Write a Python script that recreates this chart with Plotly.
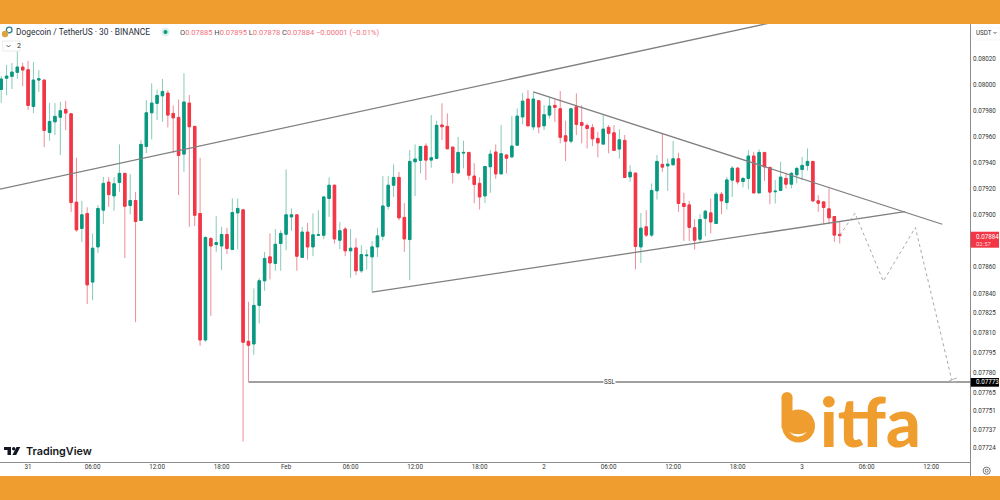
import math
import pandas as pd
import plotly.graph_objects as go

# ---------- data (prices) ----------
open_ = [
 .079964,.080052,.080066,.080097,.080138,.080117,.079833,.080037,.080037,.079632,
 .079714,.079750,.079810,.079776,.079096,.078895,.079009,.078486,.078754,.079035,
 .079250,.079144,.079247,.079317,.079070,.079109,.078956,.079524,.079784,.079857,
 .079915,.079936,.079779,.079748,.079465,.079859,.079679,.079009,.078047,.078818,
 .078772,.078761,.078849,.078734,.079014,.079037,.078037,.078017,.078309,.078496,
 .078678,.078628,.078780,.078851,.078983,.078999,.078674,.078867,.078754,.078843,
 .078843,.079124,.079226,.078805,.078890,.078724,.078746,.078572,.078687,.078678,
 .078754,.078836,.079065,.079226,.079286,.078979,.078810,.079406,.079417,.079527,
 .079419,.079432,.079689,.079679,.079519,.079321,.079473,.079478,.079296,.079240,
 .079144,.079368,.079481,.079313,.079458,.079444,.079534,.079752,.079890,.079675,
 .079877,.079683,.079766,.079841,.079815,.079606,.079565,.079830,.079709,.079686,
 .079668,.079586,.079542,.079671,.079629,.079504,.079571,.079290,.079319,.078754,
 .078907,.078844,.079183,.079386,.079375,.079383,.079429,.079086,.079075,.078900,
 .078813,.078973,.079014,.078933,.079157,.079093,.079265,.079357,.079255,.079278,
 .079450,.079167,.079478,.079363,.079176,.079186,.079278,.079234,.079306,.079347,
 .079378,.079409,.079106,.079098,.079045,.078986,.07885]
high = [
 .080068,.080154,.080169,.080262,.080171,.080187,.080177,.080115,.080040,.079861,
 .079859,.079869,.079877,.079778,.079437,.079106,.079057,.078857,.079073,.079290,
 .079288,.079288,.079540,.079320,.079311,.079175,.079573,.079882,.080012,.079964,
 .080045,.079959,.079841,.079887,.080090,.079921,.079680,.079437,.078835,.078830,
 .078989,.078907,.078900,.079124,.079124,.079040,.078336,.078438,.078516,.078716,
 .078857,.078890,.078882,.079347,.079048,.079000,.078907,.078937,.079010,.079035,
 .079142,.079286,.079230,.078945,.078907,.078890,.078820,.078767,.078734,.078797,
 .078897,.079296,.079296,.079386,.079329,.079088,.079496,.079540,.079526,.079548,
 .079766,.079722,.079857,.079779,.079520,.079598,.079568,.079480,.079396,.079286,
 .079373,.079496,.079540,.079689,.079465,.079758,.079818,.079938,.079959,.079946,
 .079880,.079843,.079907,.079887,.079952,.079722,.079817,.079934,.079843,.079702,
 .079696,.079637,.079772,.079689,.079689,.079658,.079612,.079380,.079320,.079014,
 .079035,.079240,.079458,.079625,.079432,.079568,.079475,.079169,.079106,.078966,
 .079004,.079035,.079124,.079175,.079175,.079290,.079373,.079367,.079290,.079496,
 .079483,.079501,.079480,.079365,.079265,.079406,.079321,.079329,.079367,.079444,
 .079509,.079410,.079149,.079106,.079201,.078989,.07895]
low = [
 .079861,.079920,.079967,.080045,.079990,.079805,.079782,.079946,.079519,.079568,
 .079612,.079458,.079650,.079020,.078869,.078792,.078319,.078349,.078708,.078928,
 .079060,.079030,.079175,.078668,.079002,.078181,.078954,.079473,.079578,.079727,
 .079714,.079671,.079471,.079150,.079329,.078907,.078913,.078002,.078032,.078230,
 .078716,.078577,.078699,.078729,.078734,.077283,.077732,.077935,.078172,.078420,
 .078506,.078572,.078572,.078729,.078877,.078572,.078672,.078658,.078683,.078843,
 .078813,.078983,.078780,.078737,.078683,.078518,.078539,.078556,.078582,.078412,
 .078678,.078805,.079040,.079136,.078958,.078716,.078501,.079142,.079317,.079265,
 .079360,.079430,.079573,.079504,.079240,.079311,.079355,.079265,.079088,.079040,
 .079090,.079167,.079275,.079311,.079317,.079432,.079527,.079696,.079681,.079650,
 .079625,.079650,.079740,.079714,.079548,.079411,.079548,.079612,.079548,.079509,
 .079527,.079440,.079540,.079471,.079491,.079430,.079284,.079252,.078582,.078632,
 .078830,.078830,.079116,.079329,.079183,.079380,.079022,.078800,.078800,.078734,
 .078784,.078836,.078857,.078928,.079004,.079040,.079136,.079232,.079209,.079193,
 .079165,.079165,.079260,.079080,.079086,.079183,.079201,.079201,.079240,.079265,
 .079337,.079098,.079022,.078933,.078927,.078792,.07878]
close = [
 .080045,.080068,.080099,.080138,.080115,.079841,.080037,.080047,.079648,.079717,
 .079756,.079800,.079782,.079093,.078884,.078999,.078465,.078744,.079048,.079240,
 .079154,.079237,.079317,.079065,.079109,.078948,.079540,.079784,.079859,.079918,
 .079949,.079766,.079745,.079455,.079867,.079676,.078996,.078047,.078826,.078761,
 .078787,.078849,.078742,.079017,.079048,.078030,.078007,.078309,.078496,.078666,
 .078632,.078774,.078857,.078999,.078999,.078683,.078867,.078754,.078846,.078846,
 .079136,.079226,.078815,.078877,.078724,.078744,.078572,.078696,.078691,.078754,
 .078838,.079067,.079226,.079286,.078976,.078815,.079409,.079427,.079524,.079419,
 .079437,.079687,.079676,.079506,.079324,.079478,.079478,.079303,.079232,.079136,
 .079370,.079465,.079313,.079468,.079434,.079527,.079758,.079874,.079683,.079890,
 .079675,.079769,.079836,.079826,.079594,.079565,.079815,.079694,.079687,.079663,
 .079583,.079552,.079658,.079625,.079494,.079575,.079286,.079326,.078757,.078897,
 .078844,.079186,.079409,.079365,.079388,.079429,.079086,.079063,.078903,.078805,
 .078963,.079027,.078945,.079157,.079106,.079267,.079357,.079252,.079278,.079450,
 .079167,.079478,.079367,.079173,.079180,.079288,.079234,.079317,.079355,.079378,
 .079409,.079106,.079088,.079055,.078976,.078844,.07884]
times = pd.date_range("2024-01-30 21:30", periods=len(open_), freq="30min")

price_ticks = [.08020,.08000,.07980,.07960,.07940,.07920,.07900,.07860,.07840,.07825,
               .07810,.07795,.07780,.07765,.07751,.07737,.07724]
price_labels = ["0.08020","0.08000","0.07980","0.07960","0.07940","0.07920","0.07900",
                "0.07860","0.07840","0.07825","0.07810","0.07795","0.07780","0.07765",
                "0.07751","0.07737","0.07724"]
time_ticks = ["2024-01-31 00:00","2024-01-31 06:00","2024-01-31 12:00","2024-01-31 18:00",
              "2024-02-01 00:00","2024-02-01 06:00","2024-02-01 12:00","2024-02-01 18:00",
              "2024-02-02 00:00","2024-02-02 06:00","2024-02-02 12:00","2024-02-02 18:00",
              "2024-02-03 00:00","2024-02-03 06:00","2024-02-03 12:00"]
time_labels = ["31","06:00","12:00","18:00","Feb","06:00","12:00","18:00",
               "2","06:00","12:00","18:00","3","06:00","12:00"]

x_range = ["2024-01-30 21:23:18","2024-02-03 15:37:00"]
y_range_prices = [.07713,.080473]

rising_channel_t = ["2024-01-30 21:23:18","2024-02-02 21:01:00"]
rising_channel_p = [.079196,.080481]
falling_t = ["2024-02-01 23:00","2024-02-03 13:02"]
falling_p = [.079946,.078927]
rising_t = ["2024-02-01 08:00","2024-02-03 09:34"]
rising_p = [.078410,.079023]
ssl_t = ["2024-01-31 20:30","2024-02-03 15:37"]
ssl_p = [.07773,.07773]
path_t = ["2024-02-03 03:30","2024-02-03 04:55","2024-02-03 07:33","2024-02-03 10:32","2024-02-03 13:55"]
path_p = [.078844,.079012,.078493,.078902,.077747]

# ---------- colours ----------
RED, GREEN = "#F23645", "#089981"
RED_W, GREEN_W = "#EE8C99", "#86CBB8"
ORANGE = "#F09D30"
INK = "#2a2e39"
LINE = "#808080"
FONT = "Roboto"

def X(px): return px / 1000
def Y(py): return 1 - py / 500

fig = go.Figure()

# wicks (full range, lighter) then bodies on top
fig.add_trace(go.Candlestick(
    x=times, open=open_, high=high, low=low, close=close, hoverinfo="skip", showlegend=False,
    increasing=dict(line=dict(color=GREEN_W, width=1), fillcolor=GREEN_W),
    decreasing=dict(line=dict(color=RED_W, width=1), fillcolor=RED_W), whiskerwidth=0))
fig.add_trace(go.Candlestick(
    x=times, open=open_, close=close,
    high=[max(o, c) for o, c in zip(open_, close)],
    low=[min(o, c) for o, c in zip(open_, close)],
    hoverinfo="skip", showlegend=False,
    increasing=dict(line=dict(color=GREEN, width=1), fillcolor=GREEN),
    decreasing=dict(line=dict(color=RED, width=1), fillcolor=RED), whiskerwidth=0))

def line(t, p, color=LINE, width=1.3, dash="solid"):
    fig.add_trace(go.Scatter(x=t, y=p, mode="lines", hoverinfo="skip", showlegend=False,
                             line=dict(color=color, width=width, dash=dash)))

line(rising_channel_t, rising_channel_p)
line(falling_t, falling_p)
line(rising_t, rising_p)
line(ssl_t, ssl_p)
line(path_t, path_p, color="#a8a8a8", width=1, dash="3px,3px")

shapes = []
def rect(x0, y0, x1, y1, fill, border=None, w=0):
    shapes.append(dict(type="rect", xref="paper", yref="paper", x0=X(x0), x1=X(x1), y0=Y(y0), y1=Y(y1),
                       fillcolor=fill, line=dict(color=border or fill, width=w), layer="above"))
def circle(cx, cy, r, fill=None, border=None, w=0):
    shapes.append(dict(type="circle", xref="paper", yref="paper", x0=X(cx-r), x1=X(cx+r), y0=Y(cy-r), y1=Y(cy+r),
                       fillcolor=fill or "rgba(0,0,0,0)", line=dict(color=border or fill, width=w), layer="above"))
def poly(points, fill=None, border=None, w=0, close_=True):
    d = "M " + " L ".join(f"{X(a):.5f},{Y(b):.5f}" for a, b in points) + (" Z" if close_ else "")
    shapes.append(dict(type="path", xref="paper", yref="paper", path=d,
                       fillcolor=fill or "rgba(0,0,0,0)", line=dict(color=border or fill or "rgba(0,0,0,0)", width=w), layer="above"))

# bands and axis rules
rect(0, 0, 1000, 24, ORANGE)
rect(0, 476, 1000, 500, ORANGE)
rect(0, 462, 970, 463, "#8c8c8c")
rect(970, 24, 971, 476, "#8c8c8c")

# arrow tip on the dashed path
poly([(957, 378), (949.5, 380.5), (957, 383)], border="#b5b5b5", w=1, close_=False)

# price labels
rect(970.7, 231.7, 999, 247.7, RED)
rect(970.7, 378, 999, 386.7, "#000000")

# header icon
circle(9.2, 30, 2.8, border="#2a7f8f", w=1.3)
circle(5, 34, 3.2, fill="#D9A441")
circle(165.5, 32, 4.2, fill="#D6F0EA")
circle(165.5, 32, 2, fill=GREEN)

# collapse box
rect(2.7, 41, 20, 51, "#ffffff", "#e6e6e6", 0.8)
poly([(6.5, 45), (8.5, 47), (10.5, 45)], border="#333333", w=0.8, close_=False)

# USDT box
rect(972.7, 28, 1000, 40, "#ffffff", "#f0f0f0", 0.6)
poly([(993.5, 32), (995, 33.5), (996.5, 32)], border="#333333", w=0.8, close_=False)

# settings icon
circle(986.7, 470.7, 3.6, border="#555555", w=0.8)
circle(986.7, 470.7, 1.5, border="#555555", w=0.8)

# TradingView logo glyph
poly([(4, 447), (11, 447), (11, 455), (7.5, 455), (7.5, 450), (4, 450)], fill="#131722")
circle(13.7, 448.8, 1.7, fill="#131722")
poly([(16.5, 447), (20.3, 447), (16.2, 455), (12.4, 455)], fill="#131722")

# bitfa "b"
rect(781.5, 397.5, 792.5, 428, ORANGE)
circle(787, 397.5, 5.5, fill=ORANGE)
circle(798.5, 426, 16.5, fill=ORANGE)
poly([(789, 432), (793.5, 435.5), (798, 436.8), (802.5, 435.5), (807, 432), (802.5, 433.8), (798, 434.3), (793.5, 433.8)], fill="#ffffff")

notes = []
def text(px, py, s, size=6.3, color=INK, anchor="left", family=FONT, bg=None, weight=None):
    f = dict(family=family, size=size, color=color)
    if weight:
        f["weight"] = weight
    notes.append(dict(xref="paper", yref="paper", x=X(px), y=Y(py), text=s, showarrow=False,
                      xanchor=anchor, yanchor="middle", bgcolor=bg, borderpad=0, font=f))

text(14.5, 32, "Dogecoin / TetherUS · 30 · BINANCE", size=8.4, color="#2a2e39")
v = lambda s: f'<span style="color:#F2707D">{s}</span>'
text(179, 32, "O" + v("0.07885") + " H" + v("0.07895") + " L" + v("0.07878") + " C" + v("0.07884")
     + v(" −0.00001 (−0.01%)"), size=7.5, color="#444a55")
text(15.5, 46, "2", size=7, color="#333333")
text(975, 33.5, "USDT", size=6.3, color="#333333")
text(974.5, 236.5, "0.07884", size=6.3, color="#ffffff")
text(974.5, 243.8, "02:57", size=6, color="#ffd9dd")
text(974.5, 382.3, "0.07773", size=6.3, color="#ffffff")
text(609, 382, "SSL", size=6.3, anchor="center", color="#333333", bg="#ffffff")
text(24.5, 451, "TradingView", size=10.8, color="#131722", family="Inter", weight=600)
text(819, 420, "itfa", size=68, color=ORANGE, family="Lato", weight=900)

fig.update_layout(
    width=1000, height=500, margin=dict(l=0, r=0, t=0, b=0),
    paper_bgcolor="#ffffff", plot_bgcolor="#ffffff", boxgap=0.35, showlegend=False,
    shapes=shapes, annotations=notes,
    xaxis=dict(type="date", domain=[0, 0.97], range=x_range, rangeslider=dict(visible=False),
               showgrid=False, zeroline=False, showline=False, ticks="",
               tickmode="array", tickvals=time_ticks, ticktext=time_labels, tickangle=0,
               tickfont=dict(family=FONT, size=6.3, color="#333333")),
    yaxis=dict(type="log", domain=[Y(462), Y(24)], side="right", anchor="x",
               range=[math.log10(y_range_prices[0]), math.log10(y_range_prices[1])],
               showgrid=False, zeroline=False, showline=False, ticks="", ticklabelstandoff=2,
               tickmode="array", tickvals=price_ticks, ticktext=price_labels,
               tickfont=dict(family=FONT, size=6.3, color="#333333")),
)
fig.write_html("out.html", config={"displayModeBar": False},
               post_script="document.body.style.margin='0';document.body.style.overflow='hidden';")
